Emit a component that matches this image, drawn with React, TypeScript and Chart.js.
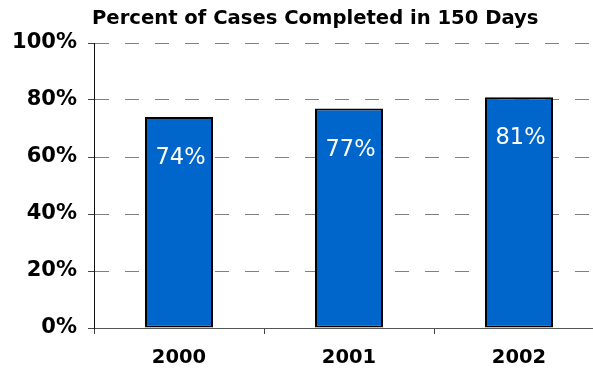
import React, { useEffect, useRef } from "react";
import { Chart, registerables } from "chart.js";

Chart.register(...registerables);

const TITLE = "Percent of Cases Completed in 150 Days";
const YEARS = ["2000", "2001", "2002"];
const PERCENT_COMPLETED = [74, 77, 81];
const Y_TICKS = [0, 20, 40, 60, 80, 100];

const FONT = "'DejaVu Sans', Verdana, sans-serif";
const BAR_BLUE = "#0066CC";

// Title drawn above the plot, aligned with the value axis
const titlePlugin = {
  id: "leftTitle",
  afterDraw(chart: any) {
    const { ctx } = chart;
    ctx.save();
    ctx.font = `bold 19.6px ${FONT}`;
    ctx.fillStyle = "#000";
    ctx.textAlign = "left";
    ctx.textBaseline = "middle";
    ctx.fillText(TITLE, 92, 19);
    ctx.restore();
  },
};

// White value labels inside each bar
const valueLabelPlugin = {
  id: "valueLabels",
  afterDatasetsDraw(chart: any) {
    const { ctx } = chart;
    const meta = chart.getDatasetMeta(0);
    const values = chart.data.datasets[0].data as number[];
    ctx.save();
    ctx.font = `22.5px ${FONT}`;
    ctx.fillStyle = "#FFFFFF";
    ctx.textAlign = "center";
    ctx.textBaseline = "middle";
    meta.data.forEach((bar: any, i: number) => {
      ctx.fillText(`${values[i]}%`, bar.x + 1.5, bar.y + 41.5);
    });
    ctx.restore();
  },
};

export default function App() {
  const canvasRef = useRef<HTMLCanvasElement | null>(null);

  useEffect(() => {
    if (!canvasRef.current) return;
    const chart = new Chart(canvasRef.current, {
      type: "bar",
      data: {
        labels: YEARS,
        datasets: [
          {
            data: PERCENT_COMPLETED,
            backgroundColor: BAR_BLUE,
            borderColor: "#000000",
            borderWidth: 2,
            borderSkipped: false,
            categoryPercentage: 1,
            barPercentage: 0.4,
          },
        ],
      },
      options: {
        animation: false,
        responsive: false,
        devicePixelRatio: 1,
        layout: { padding: { top: 43, right: 6, left: 0, bottom: 0 } },
        plugins: {
          legend: { display: false },
          title: { display: false },
          tooltip: { enabled: false },
        },
        scales: {
          x: {
            offset: true,
            afterFit(scale: any) {
              scale.height = 43;
            },
            grid: {
              offset: true,
              drawOnChartArea: false,
              drawTicks: true,
              tickLength: 6,
              tickColor: "#444",
            },
            border: { display: true, color: "#555", width: 1 },
            ticks: {
              color: "#000",
              padding: 12,
              font: { family: FONT, size: 19.5, weight: "bold" },
            },
          },
          y: {
            min: 0,
            max: 100,
            afterFit(scale: any) {
              scale.width = 94;
            },
            afterBuildTicks(scale: any) {
              scale.ticks = Y_TICKS.map((v) => ({ value: v }));
            },
            grid: {
              color: (c: any) =>
                c.tick && c.tick.value === 0 ? "rgba(0,0,0,0)" : "#808080",
              lineWidth: 1,
              tickLength: 6,
              tickColor: "#444",
              tickBorderDash: [],
            },
            border: { display: true, color: "#111", width: 1, dash: [14, 16] },
            ticks: {
              color: "#000",
              padding: 11,
              font: { family: FONT, size: 21, weight: "bold" },
              callback: (v: any) => `${v}%`,
            },
          },
        },
      },
      plugins: [titlePlugin, valueLabelPlugin],
    });
    return () => chart.destroy();
  }, []);

  return (
    <div
      style={{
        position: "fixed",
        left: 0,
        top: 0,
        width: 593,
        height: 371,
        overflow: "hidden",
        background: "#fff",
      }}
    >
      <canvas
        ref={canvasRef}
        width={610}
        height={371}
        style={{ width: 610, height: 371, display: "block" }}
      />
    </div>
  );
}
